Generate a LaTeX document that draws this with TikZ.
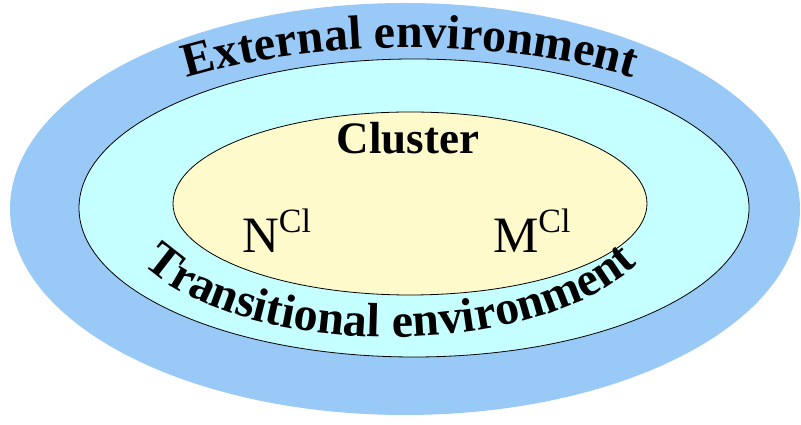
\documentclass[tikz,border=0pt]{standalone}
\usepackage{fontspec}
\setmainfont{Liberation Serif}
\usetikzlibrary{decorations.text}

\definecolor{outerblue}{RGB}{153,201,247}
\definecolor{midcyan}{RGB}{198,255,255}
\definecolor{innercream}{RGB}{255,250,204}

\newcommand{\bandfontA}{\fontsize{48}{50}\selectfont\bfseries}
\newcommand{\bandfontB}{\fontsize{48}{50}\selectfont\bfseries}

\begin{document}
\begin{tikzpicture}[x=1pt,y=1pt,
  ring/.style={draw=black,line width=0.8pt},
  label/.style={inner sep=0pt,outer sep=0pt,text=black},
  species/.style={label,font=\fontsize{51}{52}\selectfont}
]
\useasboundingbox (0,0) rectangle (801,425);

% three nested regions
\fill[outerblue] (405,216) ellipse [x radius=395, y radius=206];
\filldraw[fill=midcyan,ring] (414,217) ellipse [x radius=335, y radius=149];
\filldraw[fill=innercream,ring] (410,221.5) ellipse [x radius=237, y radius=91.5];

% curved band titles
\path[decorate,decoration={text along path,text align=center,
      text={|\bandfontA|External environment}}]
  (48.2,271.1) arc[start angle=160,end angle=20,x radius=385,y radius=161];
\path[decorate,decoration={text along path,text align=center,
      text={|\bandfontB|Transitional environment}}]
  (120.2,193.8) arc[start angle=190,end angle=350,x radius=274,y radius=128];

% cluster contents
\node[label,anchor=base,font=\fontsize{45}{47}\selectfont\bfseries] (cluster) at (408,271) {Cluster};
\node[species,anchor=base west] (n) at (242,172) {N\raisebox{20pt}{\fontsize{34}{34}\selectfont Cl}};
\node[species,anchor=base west] (m) at (493,172) {M\raisebox{20pt}{\fontsize{34}{34}\selectfont Cl}};
\end{tikzpicture}
\end{document}
